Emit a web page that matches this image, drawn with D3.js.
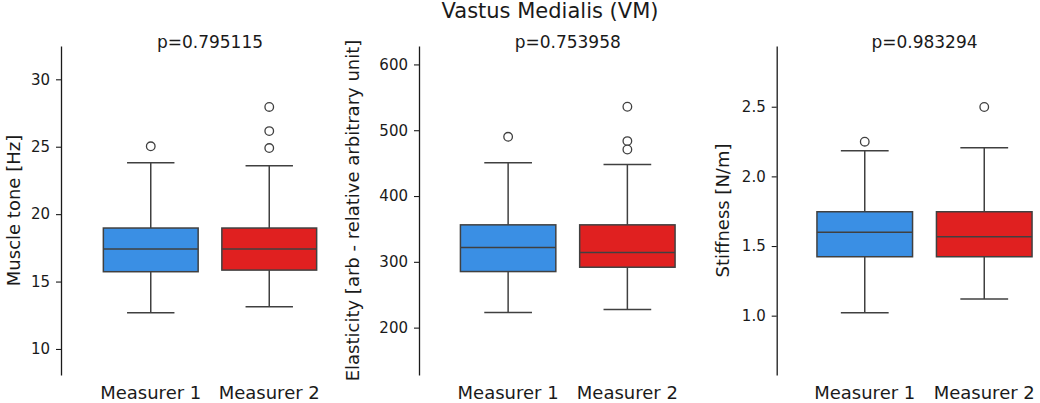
<!DOCTYPE html>
<html>
<head>
<meta charset="utf-8">
<script src="https://cdn.jsdelivr.net/npm/d3@7"></script>
<style>
  body { margin: 0; background: #fff; }
  text { font-family: "DejaVu Sans", sans-serif; fill: #1a1a1a; }
</style>
</head>
<body>
<svg id="chart"></svg>
<script>
// categories and colours
const measurers = ["Measurer 1", "Measurer 2"]
const boxColors = ["#3a8fe4", "#e02020"]

// five-number summaries: [lower whisker, q1, median, q3, upper whisker]
const toneStats = [[12.69, 15.73, 17.41, 18.97, 23.81], [13.13, 15.85, 17.41, 18.97, 23.59]]
const toneOutliers = [[25.03], [27.95, 26.16, 24.9]]
const elasticityStats = [[222.8, 285.2, 321.7, 356.2, 450.5], [227.4, 291.8, 314.1, 356.2, 447.9]]
const elasticityOutliers = [[490], [535.7, 483.5, 470.7]]
const stiffnessStats = [[1.021, 1.423, 1.598, 1.746, 2.184], [1.119, 1.423, 1.567, 1.746, 2.206]]
const stiffnessOutliers = [[2.249], [2.498]]

// titles and labels
const figureTitle = "Vastus Medialis (VM)"
const pValues = ["p=0.795115", "p=0.753958", "p=0.983294"]
const yLabels = ["Muscle tone [Hz]", "Elasticity [arb - relative arbitrary unit]", "Stiffness [N/m]"]
const toneTicks = [10, 15, 20, 25, 30]
const elasticityTicks = [200, 300, 400, 500, 600]
const stiffnessTicks = [1.0, 1.5, 2.0, 2.5]

const width = 1040
const height = 403
const yTop = 46
const yBottom = 375

const svg = d3.select("#chart")
    .attr("width", width)
    .attr("height", height)

// panel table built from the arrays above
const panels = [
    { stats: toneStats, outliers: toneOutliers, ticks: toneTicks, fmt: d3.format("d"),
      domain: [8.07, 32.47], spineX: 61, left: 91.5, right: 328.5, labelX: 20 },
    { stats: elasticityStats, outliers: elasticityOutliers, ticks: elasticityTicks, fmt: d3.format("d"),
      domain: [128, 628], spineX: 419, left: 448.5, right: 687, labelX: 359 },
    { stats: stiffnessStats, outliers: stiffnessOutliers, ticks: stiffnessTicks, fmt: d3.format(".1f"),
      domain: [0.574, 2.936], spineX: 776.7, left: 805, right: 1044, labelX: 729 }
]

const lineColor = "#404040"

svg.append("text")
    .attr("x", 550)
    .attr("y", 18)
    .attr("text-anchor", "middle")
    .style("font-size", "21px")
    .text(figureTitle)

panels.forEach((p, i) => {
    const g = svg.append("g")

    const x = d3.scaleBand()
        .domain(measurers)
        .range([p.left, p.right])
        .padding(0)
    const y = d3.scaleLinear()
        .domain(p.domain)
        .range([yBottom, yTop])

    const bw = x.bandwidth()
    const boxW = bw * 0.8
    const capW = bw * 0.4

    // y axis with offset spine
    const yAxis = g.append("g")
        .attr("transform", `translate(${p.spineX},0)`)
        .call(d3.axisLeft(y).tickValues(p.ticks).tickFormat(p.fmt).tickSize(5).tickSizeOuter(0).tickPadding(6))
    yAxis.select(".domain").attr("stroke", "#1a1a1a").attr("stroke-width", 1.3)
    yAxis.selectAll(".tick line").attr("stroke", "#1a1a1a").attr("stroke-width", 1.1)
    yAxis.selectAll(".tick text")
        .style("font-size", "15px")
        .style("font-family", "DejaVu Sans, sans-serif")
        .attr("fill", "#1a1a1a")

    // y label
    g.append("text")
        .attr("transform", `translate(${p.labelX},${(yTop + yBottom) / 2}) rotate(-90)`)
        .attr("text-anchor", "middle")
        .style("font-size", "18px")
        .text(yLabels[i])

    // p-value title
    g.append("text")
        .attr("x", (p.left + p.right) / 2)
        .attr("y", 48)
        .attr("text-anchor", "middle")
        .style("font-size", "17px")
        .text(pValues[i])

    // x tick labels
    g.selectAll(".xlab")
        .data(measurers)
        .enter().append("text")
        .attr("x", d => x(d) + bw / 2)
        .attr("y", 399)
        .attr("text-anchor", "middle")
        .style("font-size", "18px")
        .text(d => d)

    const boxes = g.selectAll(".box")
        .data(p.stats.map((s, j) => ({ name: measurers[j], s: s, out: p.outliers[j], color: boxColors[j] })))
        .enter().append("g")
        .attr("class", "box")

    // whiskers
    boxes.append("line")
        .attr("x1", d => x(d.name) + bw / 2).attr("x2", d => x(d.name) + bw / 2)
        .attr("y1", d => y(d.s[0])).attr("y2", d => y(d.s[1]))
        .attr("stroke", lineColor).attr("stroke-width", 1.5)
    boxes.append("line")
        .attr("x1", d => x(d.name) + bw / 2).attr("x2", d => x(d.name) + bw / 2)
        .attr("y1", d => y(d.s[3])).attr("y2", d => y(d.s[4]))
        .attr("stroke", lineColor).attr("stroke-width", 1.5)
    // caps
    boxes.selectAll(".cap")
        .data(d => [d.s[0], d.s[4]].map(v => ({ v: v, name: d.name })))
        .enter().append("line")
        .attr("x1", d => x(d.name) + bw / 2 - capW / 2).attr("x2", d => x(d.name) + bw / 2 + capW / 2)
        .attr("y1", d => y(d.v)).attr("y2", d => y(d.v))
        .attr("stroke", lineColor).attr("stroke-width", 1.5)
    // box
    boxes.append("rect")
        .attr("x", d => x(d.name) + (bw - boxW) / 2)
        .attr("width", boxW)
        .attr("y", d => y(d.s[3]))
        .attr("height", d => y(d.s[1]) - y(d.s[3]))
        .attr("fill", d => d.color)
        .attr("stroke", lineColor).attr("stroke-width", 1.5)
    // median
    boxes.append("line")
        .attr("x1", d => x(d.name) + (bw - boxW) / 2).attr("x2", d => x(d.name) + (bw + boxW) / 2)
        .attr("y1", d => y(d.s[2])).attr("y2", d => y(d.s[2]))
        .attr("stroke", lineColor).attr("stroke-width", 1.5)
    // outliers
    boxes.selectAll(".flier")
        .data(d => d.out.map(v => ({ v: v, name: d.name })))
        .enter().append("circle")
        .attr("cx", d => x(d.name) + bw / 2)
        .attr("cy", d => y(d.v))
        .attr("r", 4.3)
        .attr("fill", "#fff")
        .attr("stroke", lineColor).attr("stroke-width", 1.3)
})
</script>
</body>
</html>
